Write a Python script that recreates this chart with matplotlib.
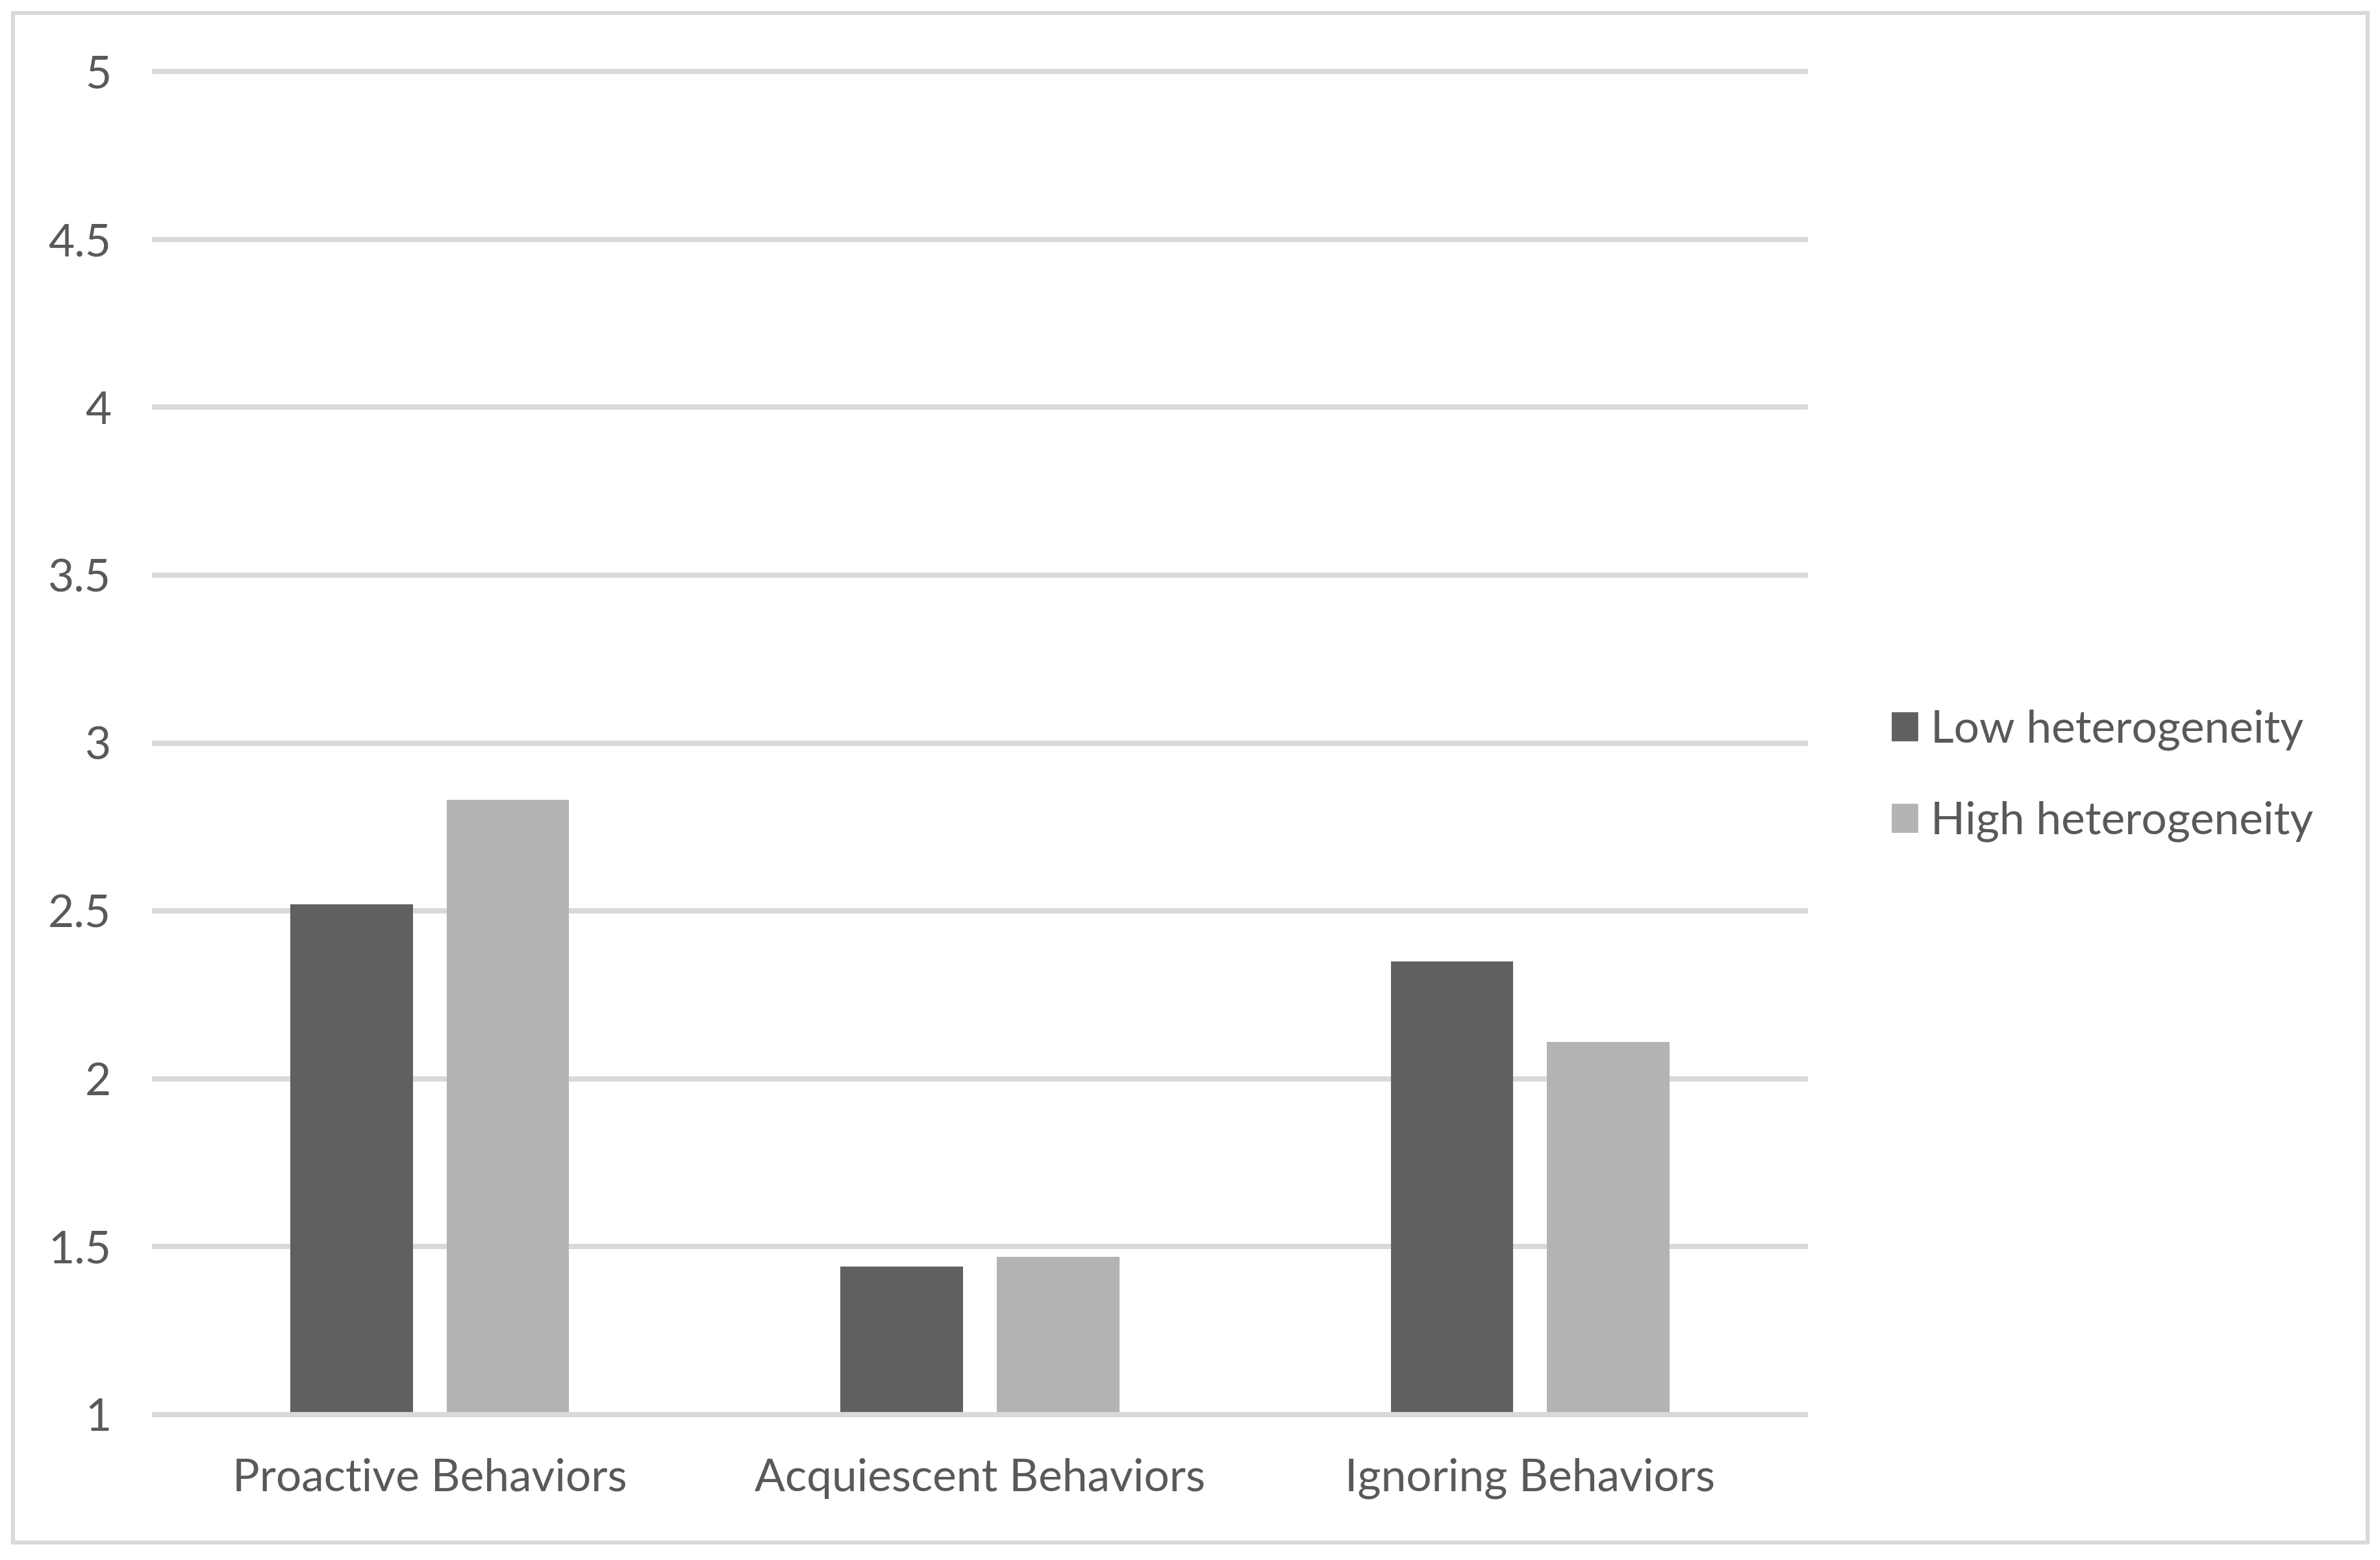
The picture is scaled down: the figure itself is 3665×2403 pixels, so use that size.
import numpy as np
import matplotlib
matplotlib.use("Agg")
import matplotlib.pyplot as plt
from matplotlib.patches import Rectangle, Patch

categories = ["Proactive Behaviors", "Acquiescent Behaviors", "Ignoring Behaviors"]
series_names = ["Low heterogeneity", "High heterogeneity"]
low_vals = [2.52, 1.44, 2.35]
high_vals = [2.83, 1.47, 2.11]
yticks = [1, 1.5, 2, 2.5, 3, 3.5, 4, 4.5, 5]
ytick_labels = ["1", "1.5", "2", "2.5", "3", "3.5", "4", "4.5", "5"]

TXT = "#595959"
GRID = "#d9d9d9"
C_LOW = "#606060"
C_HIGH = "#b3b3b3"

plt.rcParams['font.family'] = ['Lato', 'DejaVu Sans']

W, H = 3666, 2403
fig = plt.figure(figsize=(W / 200, H / 200), dpi=200)
fig.patch.set_facecolor("white")

# outer chart border
fig.add_artist(Rectangle((20 / W, 1 - 2376 / H), (3646 - 20) / W, (2376 - 20) / H,
                         transform=fig.transFigure, fill=False,
                         edgecolor=GRID, linewidth=2.2))

ax = fig.add_axes([238 / W, 1 - 2179 / H, (2780 - 238) / W, (2179 - 110) / H])

x = np.arange(len(categories))
bw = 0.223
off = 0.142
ax.bar(x - off, np.array(low_vals) - 1, bw, bottom=1, color=C_LOW, zorder=2)
ax.bar(x + off, np.array(high_vals) - 1, bw, bottom=1, color=C_HIGH, zorder=2)

for yv in yticks:
    ax.axhline(yv, color=GRID, linewidth=2.9, clip_on=False,
               zorder=3 if yv == 1 else 1)

ax.set_xlim(-0.5, 2.5)
ax.set_ylim(1, 5)
ax.set_yticks(yticks)
ax.set_yticklabels(ytick_labels)
ax.set_xticks(x)
ax.set_xticklabels(categories)
ax.tick_params(axis="both", length=0, labelsize=25, labelcolor=TXT)
ax.tick_params(axis="y", pad=24)
ax.tick_params(axis="x", pad=24)
for s in ax.spines.values():
    s.set_visible(False)

handles = [Patch(color=C_LOW, label=series_names[0]),
           Patch(color=C_HIGH, label=series_names[1])]
leg = fig.legend(handles=handles, loc="center left",
                 bbox_to_anchor=(2886 / W, 1 - 1195 / H), frameon=False,
                 fontsize=25, handlelength=0.55, handleheight=0.55,
                 handletextpad=0.3, labelspacing=1.12, borderaxespad=0)
for t in leg.get_texts():
    t.set_color(TXT)

fig.savefig("out.png", dpi=200, facecolor="white")
